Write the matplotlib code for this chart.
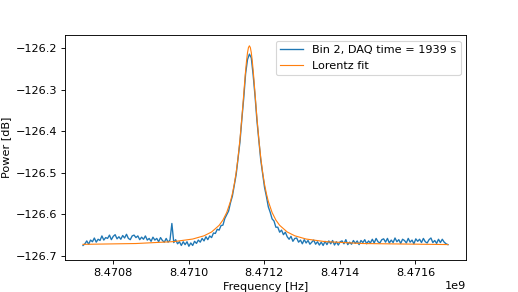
import numpy as np
import matplotlib
matplotlib.use('Agg')
import matplotlib.pyplot as plt

# measured spectrum, bin 2 (5 kHz grid)
f_start = 8.470721e9      # Hz
f_step = 5e3              # Hz
power_db = [
    -126.675, -126.671, -126.664, -126.672, -126.662, -126.666, -126.657, -126.667, -126.660, -126.663,
    -126.652, -126.662, -126.656,
    -126.658, -126.650, -126.661, -126.653, -126.649, -126.659, -126.654, -126.660, -126.651, -126.657,
    -126.648, -126.658, -126.661, -126.652, -126.650, -126.656,
    -126.652, -126.661, -126.655, -126.660, -126.652, -126.662, -126.658, -126.665, -126.655, -126.662,
    -126.658, -126.666, -126.656, -126.663, -126.667, -126.658, -126.667, -126.662, -126.622,
    -126.668, -126.661, -126.671, -126.666, -126.675, -126.666, -126.673, -126.666, -126.677, -126.669,
    -126.675, -126.665, -126.670, -126.662, -126.667,
    -126.658, -126.664, -126.654, -126.661, -126.652, -126.656, -126.645, -126.646, -126.636, -126.638,
    -126.627, -126.626, -126.610,
    -126.601, -126.592, -126.572, -126.556, -126.530, -126.504, -126.465, -126.426, -126.371, -126.320,
    -126.261, -126.227, -126.214,
    -126.223, -126.265, -126.316, -126.375, -126.423, -126.469, -126.503, -126.535, -126.557, -126.582,
    -126.595, -126.611,
    -126.616, -126.631, -126.631, -126.643, -126.638, -126.649, -126.643, -126.654, -126.660, -126.653,
    -126.665, -126.658, -126.657, -126.667, -126.662, -126.671, -126.661, -126.669, -126.663, -126.672,
    -126.667, -126.662, -126.672, -126.666, -126.674, -126.667, -126.675, -126.665,
    -126.673, -126.664, -126.671, -126.663, -126.674, -126.666, -126.674, -126.666, -126.664, -126.671,
    -126.661, -126.673, -126.667, -126.672, -126.663, -126.670, -126.664, -126.673, -126.663, -126.668,
    -126.661, -126.671, -126.664, -126.669, -126.660, -126.669, -126.658, -126.666, -126.669, -126.661,
    -126.659, -126.667, -126.658, -126.669, -126.662, -126.668, -126.657, -126.666, -126.661, -126.670,
    -126.660, -126.663, -126.669, -126.658, -126.667, -126.662, -126.671, -126.659, -126.665, -126.660,
    -126.668, -126.658, -126.666, -126.669, -126.661, -126.657, -126.668, -126.663, -126.670, -126.660,
    -126.668, -126.660, -126.667, -126.671, -126.673,
]

# lorentz fit curve (offset from centre in kHz, power in dB)
fit_center = 8.471161e9
fit_offset_khz = [-440, -300, -200, -150, -120, -100, -80, -70, -60, -50, -45, -40, -35, -30, -25,
                  -20, -17.5, -15, -12.5, -10, -7.5, -5, -2.5, 0, 2.5, 5, 7.5, 10, 12.5, 15, 17.5,
                  20, 25, 30, 35, 40, 45, 50, 60, 70, 80, 100, 120, 150, 200, 300, 525]
fit_power = [-126.6723, -126.6703, -126.6657, -126.6595, -126.6517, -126.6425, -126.6265, -126.6138,
             -126.5956, -126.5687, -126.5504, -126.5276, -126.4991, -126.4636, -126.4200, -126.3682,
             -126.3397, -126.3105, -126.2813, -126.2538, -126.2296, -126.2105, -126.1982, -126.1940,
             -126.1982, -126.2105, -126.2296, -126.2538, -126.2813, -126.3105, -126.3397, -126.3682,
             -126.4200, -126.4636, -126.4991, -126.5276, -126.5504, -126.5687, -126.5956, -126.6138,
             -126.6265, -126.6425, -126.6517, -126.6595, -126.6657, -126.6703, -126.6728]

daq_time = 1939


freq = f_start + f_step*np.arange(len(power_db))
fit_freq = fit_center + np.array(fit_offset_khz)*1e3

# original figure was 6.4 in wide, shown at 518 px
fig, ax = plt.subplots(figsize=(6.4, 3.608), dpi=518/6.4)

ax.plot(freq, power_db, linewidth=1.2, label='Bin 2, DAQ time = %i s' % daq_time)
ax.plot(fit_freq, fit_power, linewidth=1.0, label='Lorentz fit')

ax.set_ylim(-126.7097, -126.168)
ax.ticklabel_format(useOffset=False)
ax.set_xlabel('Frequency [Hz]')
ax.set_ylabel('Power [dB]')
ax.legend(loc='upper right')

plt.savefig('out.png', dpi=518/6.4)
